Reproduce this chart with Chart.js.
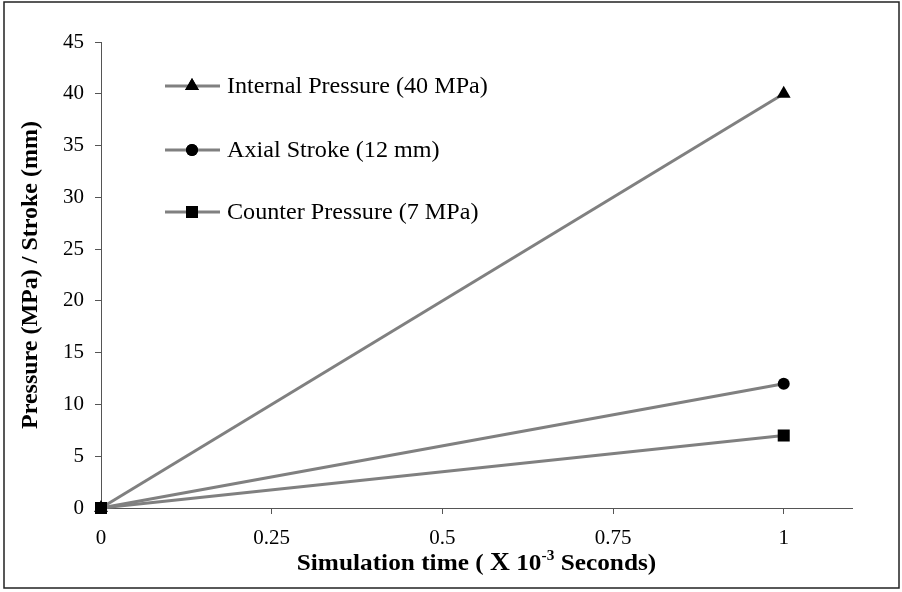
<!DOCTYPE html>
<html>
<head>
<meta charset="utf-8">
<script src="https://cdn.jsdelivr.net/npm/chart.js@4"></script>
<style>
  html, body { margin: 0; padding: 0; background: #fff; }
  #wrap { position: relative; width: 902px; height: 592px; }
</style>
</head>
<body>
<div id="wrap"><canvas id="lineChart"></canvas></div>
<script>
const timeValues = [0, 1];
const internalPressure = [0, 40];
const axialStroke = [0, 12];
const counterPressure = [0, 7];
const seriesNames = ['Internal Pressure (40 MPa)', 'Axial Stroke (12 mm)', 'Counter Pressure (7 MPa)'];
const xTickValues = [0, 0.25, 0.5, 0.75, 1];
const yAxisTitle = 'Pressure (MPa) / Stroke (mm)';

const serif = "'Liberation Serif', 'Times New Roman', serif";
const lineGray = '#808080';
const axisGray = '#555555';

const styles = [
    { pointStyle: 'triangle', radius: 8 },
    { pointStyle: 'circle', radius: 6 },
    { pointStyle: 'rect', radius: 8.5 }
];

function toPoints(ys) {
    return timeValues.map((x, i) => ({ x: x, y: ys[i] }));
}

const seriesData = [internalPressure, axialStroke, counterPressure];

const datasets = seriesData.map((ys, i) => ({
    label: seriesNames[i],
    data: toPoints(ys),
    borderColor: lineGray,
    borderWidth: 3,
    pointStyle: styles[i].pointStyle,
    pointRadius: styles[i].radius,
    pointBackgroundColor: '#000',
    pointBorderColor: '#000',
    pointBorderWidth: 0,
    clip: false,
    order: 2 - i,
    tension: 0
}));

// outer frame of the figure
const framePlugin = {
    id: 'frame',
    beforeDraw(chart) {
        const c = chart.ctx;
        c.save();
        c.fillStyle = '#fff';
        c.fillRect(0, 0, chart.width, chart.height);
        c.strokeStyle = '#222';
        c.lineWidth = 1.5;
        c.strokeRect(4, 2, 895, 586);
        c.restore();
    }
};

// legend drawn inside the plot, with a line through each marker
const insideLegend = {
    id: 'insideLegend',
    afterDraw(chart) {
        const c = chart.ctx;
        const rows = [86, 150, 212];
        c.save();
        seriesNames.forEach((name, i) => {
            const y = rows[i];
            c.strokeStyle = lineGray;
            c.lineWidth = 3;
            c.beginPath();
            c.moveTo(165, y);
            c.lineTo(220, y);
            c.stroke();
            c.fillStyle = '#000';
            Chart.helpers.drawPoint(c, { pointStyle: styles[i].pointStyle, radius: styles[i].radius, rotation: 0, borderWidth: 0 }, 192, y);
            c.fill();
            // the original text is a little wide, so stretch it slightly
            c.save();
            c.translate(227, y + 1);
            c.scale(1.05, 1);
            c.fillStyle = '#000';
            c.font = '23px ' + serif;
            c.textBaseline = 'middle';
            c.textAlign = 'left';
            c.fillText(name, 0, 0);
            c.restore();
        });
        c.restore();
    }
};

// x axis title with superscript exponent
const xTitlePlugin = {
    id: 'xTitle',
    afterDraw(chart) {
        const c = chart.ctx;
        const area = chart.chartArea;
        const stretch = 1.1;
        const parts = [
            { t: 'Simulation time ( ', f: 'bold 23px ' + serif, dy: 0 },
            { t: 'X', f: 'bold 25px ' + serif, dy: 0 },
            { t: ' 10', f: 'bold 23px ' + serif, dy: 0 },
            { t: '-3', f: 'bold 14px ' + serif, dy: -10 },
            { t: ' Seconds)', f: 'bold 23px ' + serif, dy: 0 }
        ];
        c.save();
        let total = 0;
        parts.forEach(p => { c.font = p.f; p.w = c.measureText(p.t).width; total += p.w; });
        const cx = (area.left + area.right) / 2;
        c.translate(cx - total * stretch / 2, 570);
        c.scale(stretch, 1);
        let x = 0;
        c.fillStyle = '#000';
        c.textBaseline = 'alphabetic';
        c.textAlign = 'left';
        parts.forEach(p => {
            c.font = p.f;
            c.fillText(p.t, x, p.dy);
            x += p.w;
        });
        c.restore();
    }
};

const ctx = document.getElementById('lineChart').getContext('2d');
const chart = new Chart(ctx, {
    type: 'line',
    data: { datasets: datasets },
    options: {
        responsive: true,
        maintainAspectRatio: false,
        animation: false,
        events: [],
        layout: { padding: { left: 0, top: 42, right: 50, bottom: 0 } },
        plugins: {
            legend: { display: false },
            tooltip: { enabled: false }
        },
        scales: {
            x: {
                type: 'linear',
                min: 0,
                max: 1.1,
                afterBuildTicks(scale) {
                    scale.ticks = xTickValues.map(v => ({ value: v }));
                },
                afterFit(scale) { scale.height = 84; },
                border: { display: true, color: axisGray, width: 1 },
                grid: { display: true, drawOnChartArea: false, drawTicks: true, tickLength: 6, color: axisGray },
                ticks: {
                    padding: 12,
                    color: '#000',
                    font: { family: serif, size: 21 },
                    maxRotation: 0,
                    callback: value => String(value)
                },
                title: { display: false }
            },
            y: {
                min: 0,
                max: 45,
                afterFit(scale) { scale.width = 101; },
                border: { display: true, color: axisGray, width: 1 },
                grid: { display: true, drawOnChartArea: false, drawTicks: true, tickLength: 6, color: axisGray },
                ticks: {
                    stepSize: 5,
                    padding: 11,
                    color: '#000',
                    font: { family: serif, size: 21 }
                },
                title: {
                    display: true,
                    text: yAxisTitle,
                    color: '#000',
                    font: { family: serif, size: 24, weight: 'bold' },
                    padding: { top: 16, bottom: 0 }
                }
            }
        }
    },
    plugins: [framePlugin, insideLegend, xTitlePlugin]
});
</script>
</body>
</html>
